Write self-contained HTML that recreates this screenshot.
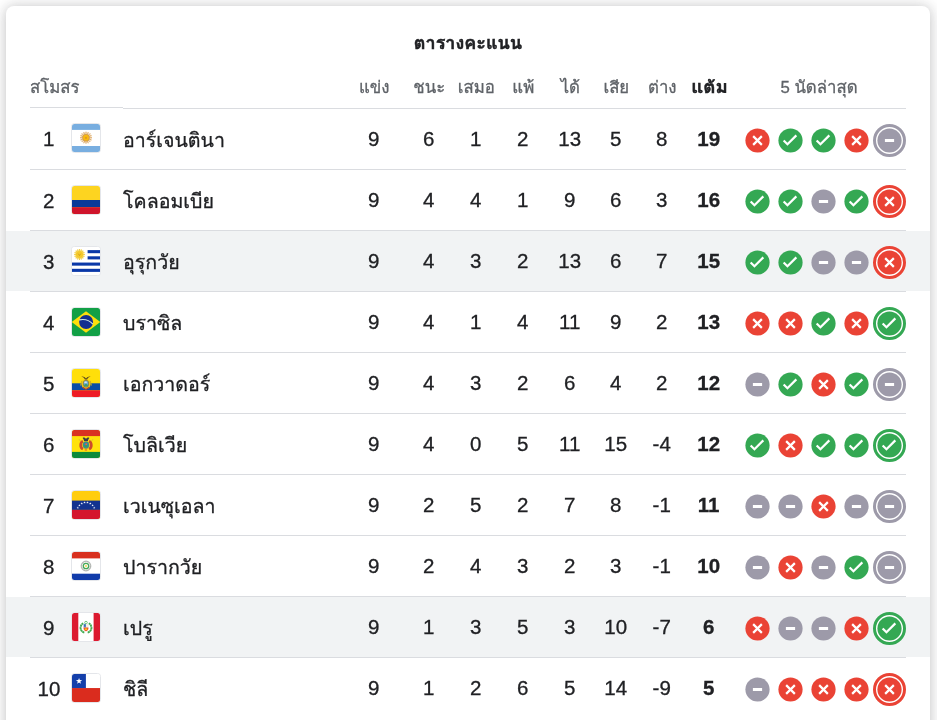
<!DOCTYPE html>
<html lang="th">
<head>
<meta charset="utf-8">
<title>ตารางคะแนน</title>
<style>
html,body{margin:0;padding:0;}
body{width:937px;height:720px;overflow:hidden;background:#fff;position:relative;
 font-family:"Liberation Sans","Tahoma","Loma","Noto Sans Thai",sans-serif;color:#202124;}
.card{position:absolute;left:6px;top:6px;width:924px;height:760px;background:#fff;border-radius:8px;
 box-shadow:0 1px 12px rgba(32,33,36,.22),0 0 20px rgba(32,33,36,.08);}
.hl{position:absolute;left:6px;width:924px;height:60px;background:#f1f3f4;}
.ln{position:absolute;height:1px;background:#dadce0;}
.t{position:absolute;white-space:nowrap;line-height:24px;height:24px;-webkit-text-stroke:.3px;}
.title{left:268px;width:400px;text-align:center;top:31px;font-weight:bold;font-size:18px;-webkit-text-stroke:.5px;}
.h{font-size:16.8px;color:#5f6368;top:76px;text-align:center;width:80px;margin-left:-40px;}
.hb{font-weight:bold;color:#202124;-webkit-text-stroke:.4px;transform:translateX(.5px) scaleX(1.115);transform-origin:50% 50%;}
.n{font-size:20.5px;text-align:center;width:60px;margin-left:-30px;}
.b{font-weight:bold;}
.rk{font-size:20.5px;text-align:center;width:40px;left:28.7px;}
.nm{font-size:19.6px;left:123px;}
.fl{position:absolute;left:71px;width:28px;height:28px;border:1px solid #e4e6ea;border-radius:3.5px;overflow:hidden;background:#fff;}
.fl svg{display:block;}
.ic{position:absolute;}
</style>
</head>
<body>
<div class="card"></div>
<div class="hl" style="top:231px"></div>
<div class="hl" style="top:597px"></div>
<div class="t title">ตารางคะแนน</div>
<div class="t h" style="left:30px;margin-left:0;width:auto;text-align:left">สโมสร</div>
<div class="t h" style="left:374.3px">แข่ง</div>
<div class="t h" style="left:429.3px">ชนะ</div>
<div class="t h" style="left:476.3px">เสมอ</div>
<div class="t h" style="left:523.3px">แพ้</div>
<div class="t h" style="left:570.3px">ได้</div>
<div class="t h" style="left:616.3px">เสีย</div>
<div class="t h" style="left:662.3px">ต่าง</div>
<div class="t h hb" style="left:709.3px">แต้ม</div>
<div class="t h" style="left:819px;width:160px;margin-left:-80px">5 นัดล่าสุด</div>
<div class="ln" style="left:30px;width:93px;top:107px"></div>
<div class="ln" style="left:123px;width:783px;top:108px"></div>
<!-- row 1 -->
<div class="ln" style="left:30px;width:876px;top:169px"></div>
<div class="t rk" style="top:127px">1</div>
<div class="fl" style="top:123px"><svg width="28" height="28" viewBox="0 0 28 28"><rect width="28" height="28" fill="#fff"/><rect width="28" height="5.9" fill="#78aee0"/><rect y="22" width="28" height="6" fill="#78aee0"/><circle cx="14" cy="13.7" r="5.9" fill="#f3dfc4" opacity=".75"/><path d="M17.20 13.70L20.00 13.70M16.96 14.92L19.54 16.00M16.26 15.96L18.24 17.94M15.22 16.66L16.30 19.24M14.00 16.90L14.00 19.70M12.78 16.66L11.70 19.24M11.74 15.96L9.76 17.94M11.04 14.92L8.46 16.00M10.80 13.70L8.00 13.70M11.04 12.48L8.46 11.40M11.74 11.44L9.76 9.46M12.78 10.74L11.70 8.16M14.00 10.50L14.00 7.70M15.22 10.74L16.30 8.16M16.26 11.44L18.24 9.46M16.96 12.48L19.54 11.40" stroke="#dfae6e" stroke-width="1" fill="none"/><circle cx="14" cy="13.7" r="3.7" fill="#cf9a4e"/><circle cx="14" cy="13.7" r="2.9" fill="#f8b90f"/><circle cx="14" cy="13.9" r="1.1" fill="#e39a1c"/></svg></div>
<div class="t nm" style="top:128px">อาร์เจนตินา</div>
<div class="t n" style="left:373.7px;top:127px">9</div>
<div class="t n" style="left:428.7px;top:127px">6</div>
<div class="t n" style="left:475.7px;top:127px">1</div>
<div class="t n" style="left:522.7px;top:127px">2</div>
<div class="t n" style="left:569.7px;top:127px">13</div>
<div class="t n" style="left:615.7px;top:127px">5</div>
<div class="t n" style="left:661.7px;top:127px">8</div>
<div class="t n b" style="left:708.7px;top:127px">19</div>
<svg class="ic" style="left:739.0px;top:122.0px" width="37" height="37" viewBox="-18.5 -18.5 37 37"><circle r="12.100" fill="#ea4335"/><path d="M-4.350-4.350 4.350 4.350M4.350-4.350-4.350 4.350" stroke="#fff" stroke-width="2.200" fill="none"/></svg>
<svg class="ic" style="left:772.0px;top:122.0px" width="37" height="37" viewBox="-18.5 -18.5 37 37"><circle r="12.100" fill="#34a853"/><path d="M-6.850-.050-3.050 3.750 5.850-5.150" fill="none" stroke="#fff" stroke-width="2.200"/></svg>
<svg class="ic" style="left:805.0px;top:122.0px" width="37" height="37" viewBox="-18.5 -18.5 37 37"><circle r="12.100" fill="#34a853"/><path d="M-6.850-.050-3.050 3.750 5.850-5.150" fill="none" stroke="#fff" stroke-width="2.200"/></svg>
<svg class="ic" style="left:838.0px;top:122.0px" width="37" height="37" viewBox="-18.5 -18.5 37 37"><circle r="12.100" fill="#ea4335"/><path d="M-4.350-4.350 4.350 4.350M4.350-4.350-4.350 4.350" stroke="#fff" stroke-width="2.200" fill="none"/></svg>
<svg class="ic" style="left:871.0px;top:122.0px" width="37" height="37" viewBox="-18.5 -18.5 37 37"><circle r="14" fill="#fff"/><circle r="15" fill="none" stroke="#9d9aa9" stroke-width="3"/><circle r="12.100" fill="#9d9aa9"/><rect x="-4.600" y="-1.500" width="9.200" height="3" fill="#fff"/></svg>
<!-- row 2 -->
<div class="ln" style="left:30px;width:876px;top:230px"></div>
<div class="t rk" style="top:189px">2</div>
<div class="fl" style="top:185px"><svg width="28" height="28" viewBox="0 0 28 28"><rect width="28" height="28" fill="#fdd420"/><rect y="14" width="28" height="7.2" fill="#083a98"/><rect y="21.2" width="28" height="6.8" fill="#cf142b"/></svg></div>
<div class="t nm" style="top:189px">โคลอมเบีย</div>
<div class="t n" style="left:373.7px;top:188px">9</div>
<div class="t n" style="left:428.7px;top:188px">4</div>
<div class="t n" style="left:475.7px;top:188px">4</div>
<div class="t n" style="left:522.7px;top:188px">1</div>
<div class="t n" style="left:569.7px;top:188px">9</div>
<div class="t n" style="left:615.7px;top:188px">6</div>
<div class="t n" style="left:661.7px;top:188px">3</div>
<div class="t n b" style="left:708.7px;top:188px">16</div>
<svg class="ic" style="left:739.0px;top:183.0px" width="37" height="37" viewBox="-18.5 -18.5 37 37"><circle r="12.100" fill="#34a853"/><path d="M-6.850-.050-3.050 3.750 5.850-5.150" fill="none" stroke="#fff" stroke-width="2.200"/></svg>
<svg class="ic" style="left:772.0px;top:183.0px" width="37" height="37" viewBox="-18.5 -18.5 37 37"><circle r="12.100" fill="#34a853"/><path d="M-6.850-.050-3.050 3.750 5.850-5.150" fill="none" stroke="#fff" stroke-width="2.200"/></svg>
<svg class="ic" style="left:805.0px;top:183.0px" width="37" height="37" viewBox="-18.5 -18.5 37 37"><circle r="12.100" fill="#9d9aa9"/><rect x="-4.600" y="-1.500" width="9.200" height="3" fill="#fff"/></svg>
<svg class="ic" style="left:838.0px;top:183.0px" width="37" height="37" viewBox="-18.5 -18.5 37 37"><circle r="12.100" fill="#34a853"/><path d="M-6.850-.050-3.050 3.750 5.850-5.150" fill="none" stroke="#fff" stroke-width="2.200"/></svg>
<svg class="ic" style="left:871.0px;top:183.0px" width="37" height="37" viewBox="-18.5 -18.5 37 37"><circle r="14" fill="#fff"/><circle r="15" fill="none" stroke="#ea4335" stroke-width="3"/><circle r="12.100" fill="#ea4335"/><path d="M-4.350-4.350 4.350 4.350M4.350-4.350-4.350 4.350" stroke="#fff" stroke-width="2.200" fill="none"/></svg>
<!-- row 3 -->
<div class="ln" style="left:30px;width:876px;top:291px"></div>
<div class="t rk" style="top:250px">3</div>
<div class="fl" style="top:246px"><svg width="28" height="28" viewBox="0 0 28 28"><rect width="28" height="28" fill="#fff"/><g fill="#0a38a8"><rect x="15.6" y="3.1" width="12.4" height="3.1"/><rect x="15.6" y="9.3" width="12.4" height="3.1"/><rect y="15.55" width="28" height="3.1"/><rect y="21.8" width="28" height="3.1"/></g><circle cx="7.5" cy="7.5" r="5" fill="#f9e9a3" opacity=".7"/><path d="M10.50 7.50L12.90 7.50M10.27 8.65L12.49 9.57M9.62 9.62L11.32 11.32M8.65 10.27L9.57 12.49M7.50 10.50L7.50 12.90M6.35 10.27L5.43 12.49M5.38 9.62L3.68 11.32M4.73 8.65L2.51 9.57M4.50 7.50L2.10 7.50M4.73 6.35L2.51 5.43M5.38 5.38L3.68 3.68M6.35 4.73L5.43 2.51M7.50 4.50L7.50 2.10M8.65 4.73L9.57 2.51M9.62 5.38L11.32 3.68M10.27 6.35L12.49 5.43" stroke="#f2cf4a" stroke-width="1.1" fill="none"/><circle cx="7.5" cy="7.5" r="3.6" fill="#f5c92a"/><path d="M6.300 6.700 7.500 8.600 8.700 6.700" stroke="#c99a1e" stroke-width=".7" fill="none"/></svg></div>
<div class="t nm" style="top:250px">อุรุกวัย</div>
<div class="t n" style="left:373.7px;top:249px">9</div>
<div class="t n" style="left:428.7px;top:249px">4</div>
<div class="t n" style="left:475.7px;top:249px">3</div>
<div class="t n" style="left:522.7px;top:249px">2</div>
<div class="t n" style="left:569.7px;top:249px">13</div>
<div class="t n" style="left:615.7px;top:249px">6</div>
<div class="t n" style="left:661.7px;top:249px">7</div>
<div class="t n b" style="left:708.7px;top:249px">15</div>
<svg class="ic" style="left:739.0px;top:244.0px" width="37" height="37" viewBox="-18.5 -18.5 37 37"><circle r="12.100" fill="#34a853"/><path d="M-6.850-.050-3.050 3.750 5.850-5.150" fill="none" stroke="#fff" stroke-width="2.200"/></svg>
<svg class="ic" style="left:772.0px;top:244.0px" width="37" height="37" viewBox="-18.5 -18.5 37 37"><circle r="12.100" fill="#34a853"/><path d="M-6.850-.050-3.050 3.750 5.850-5.150" fill="none" stroke="#fff" stroke-width="2.200"/></svg>
<svg class="ic" style="left:805.0px;top:244.0px" width="37" height="37" viewBox="-18.5 -18.5 37 37"><circle r="12.100" fill="#9d9aa9"/><rect x="-4.600" y="-1.500" width="9.200" height="3" fill="#fff"/></svg>
<svg class="ic" style="left:838.0px;top:244.0px" width="37" height="37" viewBox="-18.5 -18.5 37 37"><circle r="12.100" fill="#9d9aa9"/><rect x="-4.600" y="-1.500" width="9.200" height="3" fill="#fff"/></svg>
<svg class="ic" style="left:871.0px;top:244.0px" width="37" height="37" viewBox="-18.5 -18.5 37 37"><circle r="14" fill="#fff"/><circle r="15" fill="none" stroke="#ea4335" stroke-width="3"/><circle r="12.100" fill="#ea4335"/><path d="M-4.350-4.350 4.350 4.350M4.350-4.350-4.350 4.350" stroke="#fff" stroke-width="2.200" fill="none"/></svg>
<!-- row 4 -->
<div class="ln" style="left:30px;width:876px;top:352px"></div>
<div class="t rk" style="top:311px">4</div>
<div class="fl" style="top:307px"><svg width="28" height="28" viewBox="0 0 28 28"><rect width="28" height="28" fill="#12a046"/><path d="M14 3.300 28.200 14 14 24.800-.2 14z" fill="#fddf0c"/><circle cx="14.100" cy="14" r="7" fill="#142f8f"/><path d="M7.300 11.900c5-1.100 10.300.6 13.600 4.200" fill="none" stroke="#cfe8e6" stroke-width="1.100"/></svg></div>
<div class="t nm" style="top:311px">บราซิล</div>
<div class="t n" style="left:373.7px;top:310px">9</div>
<div class="t n" style="left:428.7px;top:310px">4</div>
<div class="t n" style="left:475.7px;top:310px">1</div>
<div class="t n" style="left:522.7px;top:310px">4</div>
<div class="t n" style="left:569.7px;top:310px">11</div>
<div class="t n" style="left:615.7px;top:310px">9</div>
<div class="t n" style="left:661.7px;top:310px">2</div>
<div class="t n b" style="left:708.7px;top:310px">13</div>
<svg class="ic" style="left:739.0px;top:305.0px" width="37" height="37" viewBox="-18.5 -18.5 37 37"><circle r="12.100" fill="#ea4335"/><path d="M-4.350-4.350 4.350 4.350M4.350-4.350-4.350 4.350" stroke="#fff" stroke-width="2.200" fill="none"/></svg>
<svg class="ic" style="left:772.0px;top:305.0px" width="37" height="37" viewBox="-18.5 -18.5 37 37"><circle r="12.100" fill="#ea4335"/><path d="M-4.350-4.350 4.350 4.350M4.350-4.350-4.350 4.350" stroke="#fff" stroke-width="2.200" fill="none"/></svg>
<svg class="ic" style="left:805.0px;top:305.0px" width="37" height="37" viewBox="-18.5 -18.5 37 37"><circle r="12.100" fill="#34a853"/><path d="M-6.850-.050-3.050 3.750 5.850-5.150" fill="none" stroke="#fff" stroke-width="2.200"/></svg>
<svg class="ic" style="left:838.0px;top:305.0px" width="37" height="37" viewBox="-18.5 -18.5 37 37"><circle r="12.100" fill="#ea4335"/><path d="M-4.350-4.350 4.350 4.350M4.350-4.350-4.350 4.350" stroke="#fff" stroke-width="2.200" fill="none"/></svg>
<svg class="ic" style="left:871.0px;top:305.0px" width="37" height="37" viewBox="-18.5 -18.5 37 37"><circle r="14" fill="#fff"/><circle r="15" fill="none" stroke="#34a853" stroke-width="3"/><circle r="12.100" fill="#34a853"/><path d="M-6.850-.050-3.050 3.750 5.850-5.150" fill="none" stroke="#fff" stroke-width="2.200"/></svg>
<!-- row 5 -->
<div class="ln" style="left:30px;width:876px;top:413px"></div>
<div class="t rk" style="top:372px">5</div>
<div class="fl" style="top:368px"><svg width="28" height="28" viewBox="0 0 28 28"><rect width="28" height="28" fill="#ffdf0a"/><rect y="14.300" width="28" height="7" fill="#0c4ea6"/><rect y="21.300" width="28" height="6.700" fill="#ee1c25"/><ellipse cx="14" cy="15.300" rx="4.500" ry="5" fill="#e8c516"/><path d="M9.800 11.800 8.600 16.500M18.200 11.800 19.400 16.500" stroke="#d6b11c" stroke-width="1"/><path d="M10.600 18.200 14 20.400 17.400 18.200" stroke="#b23a2a" stroke-width="1.100" fill="none"/><ellipse cx="14" cy="14.800" rx="3" ry="3.700" fill="#8a7a3c"/><ellipse cx="14" cy="14.700" rx="2.300" ry="3" fill="#6db1d6"/><ellipse cx="14" cy="16.200" rx="1.800" ry="1.300" fill="#3f9a6a"/><ellipse cx="13.600" cy="13.300" rx="1.500" ry=".8" fill="#dbe9f0"/><path d="M9.300 7.600c2-.5 3.600.4 4.700 1.900 1.100-1.500 2.700-2.400 4.700-1.900-1.700.5-2.900 1.500-3.700 2.900h-2c-.8-1.400-2-2.400-3.700-2.900z" fill="#5b4a22"/></svg></div>
<div class="t nm" style="top:372px">เอกวาดอร์</div>
<div class="t n" style="left:373.7px;top:371px">9</div>
<div class="t n" style="left:428.7px;top:371px">4</div>
<div class="t n" style="left:475.7px;top:371px">3</div>
<div class="t n" style="left:522.7px;top:371px">2</div>
<div class="t n" style="left:569.7px;top:371px">6</div>
<div class="t n" style="left:615.7px;top:371px">4</div>
<div class="t n" style="left:661.7px;top:371px">2</div>
<div class="t n b" style="left:708.7px;top:371px">12</div>
<svg class="ic" style="left:739.0px;top:366.0px" width="37" height="37" viewBox="-18.5 -18.5 37 37"><circle r="12.100" fill="#9d9aa9"/><rect x="-4.600" y="-1.500" width="9.200" height="3" fill="#fff"/></svg>
<svg class="ic" style="left:772.0px;top:366.0px" width="37" height="37" viewBox="-18.5 -18.5 37 37"><circle r="12.100" fill="#34a853"/><path d="M-6.850-.050-3.050 3.750 5.850-5.150" fill="none" stroke="#fff" stroke-width="2.200"/></svg>
<svg class="ic" style="left:805.0px;top:366.0px" width="37" height="37" viewBox="-18.5 -18.5 37 37"><circle r="12.100" fill="#ea4335"/><path d="M-4.350-4.350 4.350 4.350M4.350-4.350-4.350 4.350" stroke="#fff" stroke-width="2.200" fill="none"/></svg>
<svg class="ic" style="left:838.0px;top:366.0px" width="37" height="37" viewBox="-18.5 -18.5 37 37"><circle r="12.100" fill="#34a853"/><path d="M-6.850-.050-3.050 3.750 5.850-5.150" fill="none" stroke="#fff" stroke-width="2.200"/></svg>
<svg class="ic" style="left:871.0px;top:366.0px" width="37" height="37" viewBox="-18.5 -18.5 37 37"><circle r="14" fill="#fff"/><circle r="15" fill="none" stroke="#9d9aa9" stroke-width="3"/><circle r="12.100" fill="#9d9aa9"/><rect x="-4.600" y="-1.500" width="9.200" height="3" fill="#fff"/></svg>
<!-- row 6 -->
<div class="ln" style="left:30px;width:876px;top:474px"></div>
<div class="t rk" style="top:433px">6</div>
<div class="fl" style="top:429px"><svg width="28" height="28" viewBox="0 0 28 28"><rect width="28" height="28" fill="#ffe20c"/><rect width="28" height="6.100" fill="#d93222"/><rect y="21.900" width="28" height="6.100" fill="#0d8a3c"/><path d="M10.900 11.300C8.200 12.300 7.700 17.600 10.900 19.100M17.100 11.300C19.800 12.300 20.300 17.600 17.100 19.100" fill="none" stroke="#cc4a2c" stroke-width="2.700"/><path d="M8.300 10.900 7.200 9.400M19.700 10.900 20.800 9.400" stroke="#c9a84a" stroke-width=".8"/><ellipse cx="14" cy="15" rx="3.600" ry="3.900" fill="#caa23a"/><ellipse cx="14" cy="15" rx="3.100" ry="3.400" fill="#3a9a78"/><ellipse cx="14" cy="15" rx="2.200" ry="2.500" fill="#2f7fc0"/><ellipse cx="14" cy="15.900" rx="1.700" ry="1.200" fill="#3f9a5a"/><circle cx="14.200" cy="14.200" r=".9" fill="#ee6a2a"/><path d="M10.600 7.900c1.400-.7 2.600-.1 3.400 1.100.8-1.200 2-1.800 3.400-1.100-.9.800-1.300 1.900-1.500 3.100h-3.800c-.2-1.200-.6-2.300-1.500-3.100z" fill="#3b3a4a"/><rect x="12.700" y="19.400" width="2.400" height="1.100" fill="#e0552a"/></svg></div>
<div class="t nm" style="top:433px">โบลิเวีย</div>
<div class="t n" style="left:373.7px;top:432px">9</div>
<div class="t n" style="left:428.7px;top:432px">4</div>
<div class="t n" style="left:475.7px;top:432px">0</div>
<div class="t n" style="left:522.7px;top:432px">5</div>
<div class="t n" style="left:569.7px;top:432px">11</div>
<div class="t n" style="left:615.7px;top:432px">15</div>
<div class="t n" style="left:661.7px;top:432px">-4</div>
<div class="t n b" style="left:708.7px;top:432px">12</div>
<svg class="ic" style="left:739.0px;top:427.0px" width="37" height="37" viewBox="-18.5 -18.5 37 37"><circle r="12.100" fill="#34a853"/><path d="M-6.850-.050-3.050 3.750 5.850-5.150" fill="none" stroke="#fff" stroke-width="2.200"/></svg>
<svg class="ic" style="left:772.0px;top:427.0px" width="37" height="37" viewBox="-18.5 -18.5 37 37"><circle r="12.100" fill="#ea4335"/><path d="M-4.350-4.350 4.350 4.350M4.350-4.350-4.350 4.350" stroke="#fff" stroke-width="2.200" fill="none"/></svg>
<svg class="ic" style="left:805.0px;top:427.0px" width="37" height="37" viewBox="-18.5 -18.5 37 37"><circle r="12.100" fill="#34a853"/><path d="M-6.850-.050-3.050 3.750 5.850-5.150" fill="none" stroke="#fff" stroke-width="2.200"/></svg>
<svg class="ic" style="left:838.0px;top:427.0px" width="37" height="37" viewBox="-18.5 -18.5 37 37"><circle r="12.100" fill="#34a853"/><path d="M-6.850-.050-3.050 3.750 5.850-5.150" fill="none" stroke="#fff" stroke-width="2.200"/></svg>
<svg class="ic" style="left:871.0px;top:427.0px" width="37" height="37" viewBox="-18.5 -18.5 37 37"><circle r="14" fill="#fff"/><circle r="15" fill="none" stroke="#34a853" stroke-width="3"/><circle r="12.100" fill="#34a853"/><path d="M-6.850-.050-3.050 3.750 5.850-5.150" fill="none" stroke="#fff" stroke-width="2.200"/></svg>
<!-- row 7 -->
<div class="ln" style="left:30px;width:876px;top:535px"></div>
<div class="t rk" style="top:494px">7</div>
<div class="fl" style="top:490px"><svg width="28" height="28" viewBox="0 0 28 28"><rect width="28" height="28" fill="#ffcd0e"/><rect y="9.600" width="28" height="9.300" fill="#12328f"/><rect y="18.900" width="28" height="9.100" fill="#d4152d"/><polygon points="5.81,15.57 6.13,16.38 7.00,16.44 6.33,16.99 6.54,17.83 5.81,17.37 5.07,17.83 5.28,16.99 4.62,16.44 5.48,16.38" fill="#e8edf7"/><polygon points="7.40,13.08 7.72,13.88 8.59,13.94 7.92,14.50 8.14,15.34 7.40,14.88 6.67,15.34 6.88,14.50 6.21,13.94 7.08,13.88" fill="#e8edf7"/><polygon points="9.72,11.24 10.05,12.05 10.91,12.11 10.25,12.66 10.46,13.51 9.72,13.04 8.99,13.51 9.20,12.66 8.54,12.11 9.40,12.05" fill="#e8edf7"/><polygon points="12.52,10.27 12.84,11.08 13.71,11.14 13.04,11.69 13.25,12.54 12.52,12.07 11.79,12.54 12.00,11.69 11.33,11.14 12.20,11.08" fill="#e8edf7"/><polygon points="15.48,10.27 15.80,11.08 16.67,11.14 16.00,11.69 16.21,12.54 15.48,12.07 14.75,12.54 14.96,11.69 14.29,11.14 15.16,11.08" fill="#e8edf7"/><polygon points="18.28,11.24 18.60,12.05 19.46,12.11 18.80,12.66 19.01,13.51 18.28,13.04 17.54,13.51 17.75,12.66 17.09,12.11 17.95,12.05" fill="#e8edf7"/><polygon points="20.60,13.08 20.92,13.88 21.79,13.94 21.12,14.50 21.33,15.34 20.60,14.88 19.86,15.34 20.08,14.50 19.41,13.94 20.28,13.88" fill="#e8edf7"/><polygon points="22.19,15.57 22.52,16.38 23.38,16.44 22.72,16.99 22.93,17.83 22.19,17.37 21.46,17.83 21.67,16.99 21.00,16.44 21.87,16.38" fill="#e8edf7"/></svg></div>
<div class="t nm" style="top:494px">เวเนซุเอลา</div>
<div class="t n" style="left:373.7px;top:493px">9</div>
<div class="t n" style="left:428.7px;top:493px">2</div>
<div class="t n" style="left:475.7px;top:493px">5</div>
<div class="t n" style="left:522.7px;top:493px">2</div>
<div class="t n" style="left:569.7px;top:493px">7</div>
<div class="t n" style="left:615.7px;top:493px">8</div>
<div class="t n" style="left:661.7px;top:493px">-1</div>
<div class="t n b" style="left:708.7px;top:493px">11</div>
<svg class="ic" style="left:739.0px;top:488.0px" width="37" height="37" viewBox="-18.5 -18.5 37 37"><circle r="12.100" fill="#9d9aa9"/><rect x="-4.600" y="-1.500" width="9.200" height="3" fill="#fff"/></svg>
<svg class="ic" style="left:772.0px;top:488.0px" width="37" height="37" viewBox="-18.5 -18.5 37 37"><circle r="12.100" fill="#9d9aa9"/><rect x="-4.600" y="-1.500" width="9.200" height="3" fill="#fff"/></svg>
<svg class="ic" style="left:805.0px;top:488.0px" width="37" height="37" viewBox="-18.5 -18.5 37 37"><circle r="12.100" fill="#ea4335"/><path d="M-4.350-4.350 4.350 4.350M4.350-4.350-4.350 4.350" stroke="#fff" stroke-width="2.200" fill="none"/></svg>
<svg class="ic" style="left:838.0px;top:488.0px" width="37" height="37" viewBox="-18.5 -18.5 37 37"><circle r="12.100" fill="#9d9aa9"/><rect x="-4.600" y="-1.500" width="9.200" height="3" fill="#fff"/></svg>
<svg class="ic" style="left:871.0px;top:488.0px" width="37" height="37" viewBox="-18.5 -18.5 37 37"><circle r="14" fill="#fff"/><circle r="15" fill="none" stroke="#9d9aa9" stroke-width="3"/><circle r="12.100" fill="#9d9aa9"/><rect x="-4.600" y="-1.500" width="9.200" height="3" fill="#fff"/></svg>
<!-- row 8 -->
<div class="ln" style="left:30px;width:876px;top:596px"></div>
<div class="t rk" style="top:555px">8</div>
<div class="fl" style="top:551px"><svg width="28" height="28" viewBox="0 0 28 28"><rect width="28" height="28" fill="#fff"/><rect width="28" height="6.400" fill="#d8301f"/><rect y="21.700" width="28" height="6.300" fill="#113caa"/><circle cx="14" cy="14" r="4.800" fill="none" stroke="#b9bcb9" stroke-width="1.200"/><circle cx="14" cy="14" r="4.100" fill="none" stroke="#8e948e" stroke-width=".5" stroke-dasharray="1 .8"/><circle cx="14" cy="14" r="2.700" fill="none" stroke="#48a85a" stroke-width="1.300"/><circle cx="14" cy="14" r="1.100" fill="#f4dc52"/></svg></div>
<div class="t nm" style="top:555px">ปารากวัย</div>
<div class="t n" style="left:373.7px;top:554px">9</div>
<div class="t n" style="left:428.7px;top:554px">2</div>
<div class="t n" style="left:475.7px;top:554px">4</div>
<div class="t n" style="left:522.7px;top:554px">3</div>
<div class="t n" style="left:569.7px;top:554px">2</div>
<div class="t n" style="left:615.7px;top:554px">3</div>
<div class="t n" style="left:661.7px;top:554px">-1</div>
<div class="t n b" style="left:708.7px;top:554px">10</div>
<svg class="ic" style="left:739.0px;top:549.0px" width="37" height="37" viewBox="-18.5 -18.5 37 37"><circle r="12.100" fill="#9d9aa9"/><rect x="-4.600" y="-1.500" width="9.200" height="3" fill="#fff"/></svg>
<svg class="ic" style="left:772.0px;top:549.0px" width="37" height="37" viewBox="-18.5 -18.5 37 37"><circle r="12.100" fill="#ea4335"/><path d="M-4.350-4.350 4.350 4.350M4.350-4.350-4.350 4.350" stroke="#fff" stroke-width="2.200" fill="none"/></svg>
<svg class="ic" style="left:805.0px;top:549.0px" width="37" height="37" viewBox="-18.5 -18.5 37 37"><circle r="12.100" fill="#9d9aa9"/><rect x="-4.600" y="-1.500" width="9.200" height="3" fill="#fff"/></svg>
<svg class="ic" style="left:838.0px;top:549.0px" width="37" height="37" viewBox="-18.5 -18.5 37 37"><circle r="12.100" fill="#34a853"/><path d="M-6.850-.050-3.050 3.750 5.850-5.150" fill="none" stroke="#fff" stroke-width="2.200"/></svg>
<svg class="ic" style="left:871.0px;top:549.0px" width="37" height="37" viewBox="-18.5 -18.5 37 37"><circle r="14" fill="#fff"/><circle r="15" fill="none" stroke="#9d9aa9" stroke-width="3"/><circle r="12.100" fill="#9d9aa9"/><rect x="-4.600" y="-1.500" width="9.200" height="3" fill="#fff"/></svg>
<!-- row 9 -->
<div class="ln" style="left:30px;width:876px;top:657px"></div>
<div class="t rk" style="top:616px">9</div>
<div class="fl" style="top:612px"><svg width="28" height="28" viewBox="0 0 28 28"><rect width="28" height="28" fill="#fff"/><rect width="6.300" height="28" fill="#dc1a30"/><rect x="21.600" width="6.400" height="28" fill="#dc1a30"/><path d="M12.300 19.600a5 5 0 0 1-1-9.300M15.700 19.600a5 5 0 0 0 1-9.300" fill="none" stroke="#43ab52" stroke-width="1.900" stroke-dasharray="2.200 .3"/><circle cx="14" cy="9.600" r="1.300" fill="none" stroke="#4fb85a" stroke-width=".8"/><path d="M11.600 10.900h4.800v4.600c0 1.500-1.200 2.400-2.400 2.800-1.200-.4-2.400-1.300-2.400-2.800z" fill="#f3f1e6"/><rect x="11.600" y="10.900" width="2.400" height="3.600" fill="#5a9ad0"/><rect x="14" y="10.900" width="2.400" height="3.600" fill="#f1efe2"/><rect x="12.400" y="11.600" width=".9" height="2" fill="#3a4a9a"/><path d="M11.600 14.500h4.800v1c0 1.500-1.200 2.400-2.400 2.800-1.200-.4-2.400-1.300-2.400-2.800z" fill="#ef4a2a"/><ellipse cx="14" cy="16.200" rx="1.500" ry="1" fill="#f8c21c"/></svg></div>
<div class="t nm" style="top:616px">เปรู</div>
<div class="t n" style="left:373.7px;top:615px">9</div>
<div class="t n" style="left:428.7px;top:615px">1</div>
<div class="t n" style="left:475.7px;top:615px">3</div>
<div class="t n" style="left:522.7px;top:615px">5</div>
<div class="t n" style="left:569.7px;top:615px">3</div>
<div class="t n" style="left:615.7px;top:615px">10</div>
<div class="t n" style="left:661.7px;top:615px">-7</div>
<div class="t n b" style="left:708.7px;top:615px">6</div>
<svg class="ic" style="left:739.0px;top:610.0px" width="37" height="37" viewBox="-18.5 -18.5 37 37"><circle r="12.100" fill="#ea4335"/><path d="M-4.350-4.350 4.350 4.350M4.350-4.350-4.350 4.350" stroke="#fff" stroke-width="2.200" fill="none"/></svg>
<svg class="ic" style="left:772.0px;top:610.0px" width="37" height="37" viewBox="-18.5 -18.5 37 37"><circle r="12.100" fill="#9d9aa9"/><rect x="-4.600" y="-1.500" width="9.200" height="3" fill="#fff"/></svg>
<svg class="ic" style="left:805.0px;top:610.0px" width="37" height="37" viewBox="-18.5 -18.5 37 37"><circle r="12.100" fill="#9d9aa9"/><rect x="-4.600" y="-1.500" width="9.200" height="3" fill="#fff"/></svg>
<svg class="ic" style="left:838.0px;top:610.0px" width="37" height="37" viewBox="-18.5 -18.5 37 37"><circle r="12.100" fill="#ea4335"/><path d="M-4.350-4.350 4.350 4.350M4.350-4.350-4.350 4.350" stroke="#fff" stroke-width="2.200" fill="none"/></svg>
<svg class="ic" style="left:871.0px;top:610.0px" width="37" height="37" viewBox="-18.5 -18.5 37 37"><circle r="14" fill="#fff"/><circle r="15" fill="none" stroke="#34a853" stroke-width="3"/><circle r="12.100" fill="#34a853"/><path d="M-6.850-.050-3.050 3.750 5.850-5.150" fill="none" stroke="#fff" stroke-width="2.200"/></svg>
<!-- row 10 -->
<div class="t rk" style="top:677px;left:29px">10</div>
<div class="fl" style="top:673px"><svg width="28" height="28" viewBox="0 0 28 28"><rect width="28" height="28" fill="#fff"/><rect y="14.050" width="28" height="13.950" fill="#da2c1e"/><rect width="13.900" height="14.050" fill="#143faa"/><polygon points="7.05,3.90 7.84,6.11 10.19,6.18 8.33,7.62 8.99,9.87 7.05,8.55 5.11,9.87 5.77,7.62 3.91,6.18 6.26,6.11" fill="#fff"/></svg></div>
<div class="t nm" style="top:677px">ชิลี</div>
<div class="t n" style="left:373.7px;top:676px">9</div>
<div class="t n" style="left:428.7px;top:676px">1</div>
<div class="t n" style="left:475.7px;top:676px">2</div>
<div class="t n" style="left:522.7px;top:676px">6</div>
<div class="t n" style="left:569.7px;top:676px">5</div>
<div class="t n" style="left:615.7px;top:676px">14</div>
<div class="t n" style="left:661.7px;top:676px">-9</div>
<div class="t n b" style="left:708.7px;top:676px">5</div>
<svg class="ic" style="left:739.0px;top:671.0px" width="37" height="37" viewBox="-18.5 -18.5 37 37"><circle r="12.100" fill="#9d9aa9"/><rect x="-4.600" y="-1.500" width="9.200" height="3" fill="#fff"/></svg>
<svg class="ic" style="left:772.0px;top:671.0px" width="37" height="37" viewBox="-18.5 -18.5 37 37"><circle r="12.100" fill="#ea4335"/><path d="M-4.350-4.350 4.350 4.350M4.350-4.350-4.350 4.350" stroke="#fff" stroke-width="2.200" fill="none"/></svg>
<svg class="ic" style="left:805.0px;top:671.0px" width="37" height="37" viewBox="-18.5 -18.5 37 37"><circle r="12.100" fill="#ea4335"/><path d="M-4.350-4.350 4.350 4.350M4.350-4.350-4.350 4.350" stroke="#fff" stroke-width="2.200" fill="none"/></svg>
<svg class="ic" style="left:838.0px;top:671.0px" width="37" height="37" viewBox="-18.5 -18.5 37 37"><circle r="12.100" fill="#ea4335"/><path d="M-4.350-4.350 4.350 4.350M4.350-4.350-4.350 4.350" stroke="#fff" stroke-width="2.200" fill="none"/></svg>
<svg class="ic" style="left:871.0px;top:671.0px" width="37" height="37" viewBox="-18.5 -18.5 37 37"><circle r="14" fill="#fff"/><circle r="15" fill="none" stroke="#ea4335" stroke-width="3"/><circle r="12.100" fill="#ea4335"/><path d="M-4.350-4.350 4.350 4.350M4.350-4.350-4.350 4.350" stroke="#fff" stroke-width="2.200" fill="none"/></svg>
</body>
</html>
